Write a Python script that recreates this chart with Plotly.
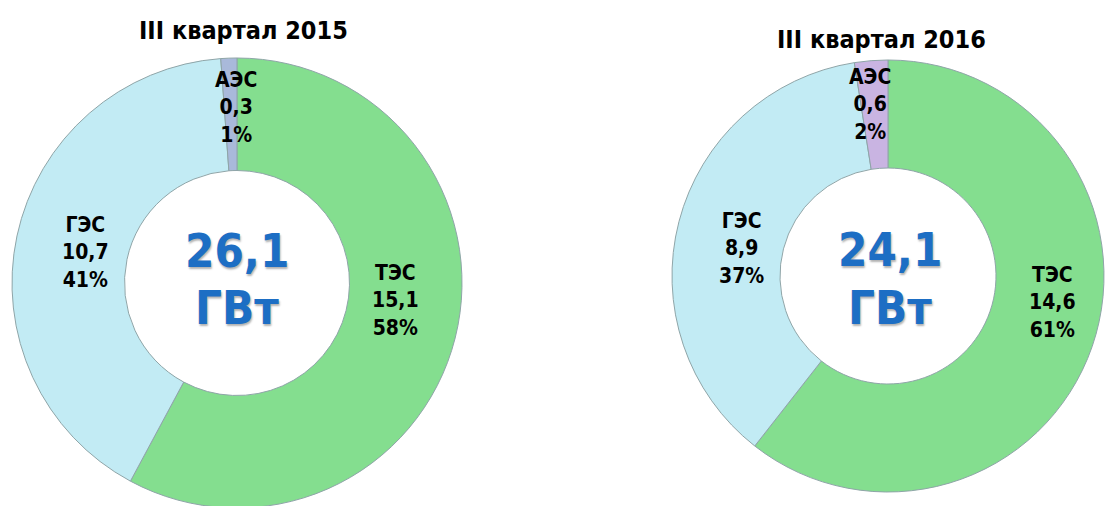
import plotly.graph_objects as go

# Data
labels = ["ТЭС", "ГЭС", "АЭС"]
values_2015 = [15.1, 10.7, 0.3]
values_2016 = [14.6, 8.9, 0.6]
titles = ["III квартал 2015", "III квартал 2016"]
unit = "ГВт"

colors_2015 = ["#84DE8F", "#C2EBF4", "#A9B9DA"]
colors_2016 = ["#84DE8F", "#C2EBF4", "#C9B4E2"]

W, H = 1105, 560
FONT = "DejaVu Sans Condensed, Liberation Sans Narrow, Open Sans, DejaVu Sans, sans-serif"


def px_x(x):
    return x / W


def px_y(y):
    return (H - y) / H


def domain(cx, cy, r):
    return dict(x=[px_x(cx - r), px_x(cx + r)], y=[px_y(cy + r), px_y(cy - r)])


def fmt(v):
    return f"{v:.1f}".replace(".", ",")


def cond(s):
    return f'<span style="font-stretch:condensed">{s}</span>'


fig = go.Figure()
pies = [
    (values_2015, colors_2015, (237, 283, 225)),
    (values_2016, colors_2016, (888, 276, 216)),
]
for vals, cols, (cx, cy, r) in pies:
    fig.add_trace(go.Pie(
        labels=labels,
        values=vals,
        hole=0.5,
        sort=False,
        direction="clockwise",
        rotation=0,
        marker=dict(colors=cols, line=dict(color="#8FA5A8", width=1)),
        textinfo="none",
        domain=domain(cx, cy, r),
        showlegend=False,
        hoverinfo="label+value+percent",
    ))

label_font = dict(family=FONT, size=21, color="#000000", weight=800)

# Slice labels (positions in pixels of the picture)
label_pos = [
    [(395, 300), (85, 253), (236, 107)],
    [(1052, 302), (742, 248), (870, 104)],
]
for vals, positions in zip((values_2015, values_2016), label_pos):
    total = sum(vals)
    for lab, v, (x, y) in zip(labels, vals, positions):
        lines = [lab, fmt(v), f"{round(v / total * 100)}%"]
        txt = "<br>".join(cond(s) for s in lines)
        fig.add_annotation(text=txt, x=px_x(x), y=px_y(y), xref="paper", yref="paper",
                           showarrow=False, xanchor="center", yanchor="middle",
                           font=label_font)

# Titles
title_pos = [(243, 30), (881, 40)]
for t, (x, y) in zip(titles, title_pos):
    fig.add_annotation(text=cond(t), x=px_x(x), y=px_y(y), xref="paper", yref="paper",
                       showarrow=False, xanchor="center", yanchor="middle",
                       font=dict(family=FONT, size=25, color="#000000", weight=800))

# Centre totals
centres = [(237, 251, 307, values_2015), (890, 249, 307, values_2016)]
for x, y1, y2, vals in centres:
    for txt, y in ((fmt(sum(vals)), y1), (unit, y2)):
        fig.add_annotation(text=cond(txt), x=px_x(x), y=px_y(y), xref="paper", yref="paper",
                           showarrow=False, xanchor="center", yanchor="middle",
                           font=dict(family=FONT, size=47, color="#1D6EC4", weight=800,
                                     shadow="1px 2px 2px rgba(0,0,0,0.3)"))

fig.update_layout(
    width=W, height=H,
    margin=dict(l=0, r=0, t=0, b=0),
    paper_bgcolor="#FFFFFF",
    plot_bgcolor="#FFFFFF",
)

fig.write_html("out.html", config={"displayModeBar": False},
               post_script="document.body.style.margin='0';document.body.style.overflow='hidden';")
